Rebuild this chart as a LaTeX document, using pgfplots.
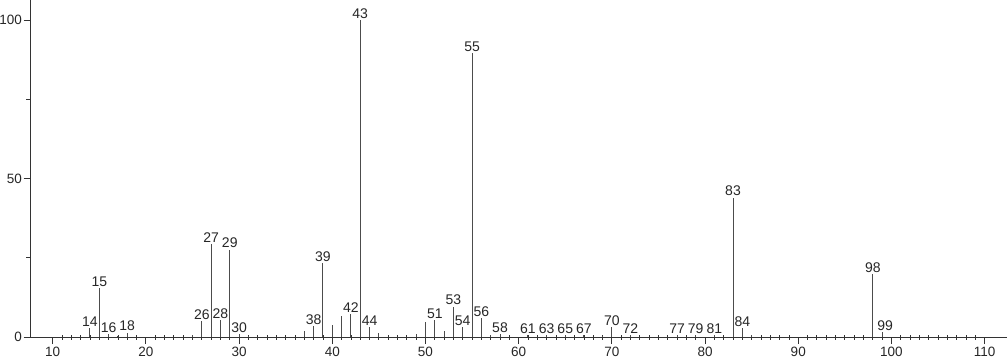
\documentclass[border=0pt]{standalone}
\usepackage{fontspec}
\setmainfont{Liberation Sans}
\usepackage{pgfplots}
\pgfplotsset{compat=1.18}
\pgfplotstableread{
x y
14 2.7
15 15.3
16 0.9
18 1.4
26 5.0
27 29.2
28 5.4
29 27.6
30 0.8
38 3.5
39 23.4
42 7.3
43 100
44 3.0
51 5.3
53 9.6
54 3.0
55 89.5
56 6.0
58 0.9
61 0.6
63 0.5
65 0.5
67 0.5
70 3.0
72 0.5
77 0.5
79 0.7
81 0.5
83 44.0
84 2.7
98 19.8
}\labeled
\pgfplotstableread{
x y
99 1.6
}\labeledshift
\pgfplotstableread{
x y
17 0.4
25 0.5
31 0.4
37 1.8
40 3.8
41 6.5
45 1.3
49 0.8
50 4.7
52 2.0
57 0.6
69 0.4
85 0.6
}\unlabeled
\begin{document}
\begin{tikzpicture}[x=1pt,y=1pt]
\useasboundingbox (-30.7,-25) rectangle (976.3,337);
\begin{axis}[
  at={(0,0)}, anchor=south west,
  scale only axis, width=976.3pt, height=337pt,
  xmin=7.64, xmax=112.4, ymin=0, ymax=106.3,
  axis lines=left, axis line style={-, black!80, line width=0.8pt},
  xtick={10,20,...,110}, ytick={0,50,100},
  minor x tick num=9, minor ytick={25,75},
  tick align=outside, major tick length=7pt, minor tick length=4.5pt,
  tick style={black!80, line width=0.8pt},
  minor x tick style={yshift=2pt},
  ticklabel style={font=\fontsize{13.5}{16}\selectfont, text=black!85},
  yticklabel style={inner sep=1.5pt},
  /pgf/number format/assume math mode=true,
  clip=false,
  nodes near coords style={font=\fontsize{14}{16}\selectfont, anchor=south, inner sep=1pt, text=black!85},
]
\addplot[ycomb, draw=black!70, line width=1pt, mark=none, nodes near coords, point meta=x] table {\labeled};
\addplot[ycomb, draw=black!70, line width=1pt, mark=none, nodes near coords, point meta=x,
  nodes near coords style={xshift=3pt}] table {\labeledshift};
\addplot[ycomb, draw=black!70, line width=1pt, mark=none] table {\unlabeled};
\end{axis}
\end{tikzpicture}
\end{document}
